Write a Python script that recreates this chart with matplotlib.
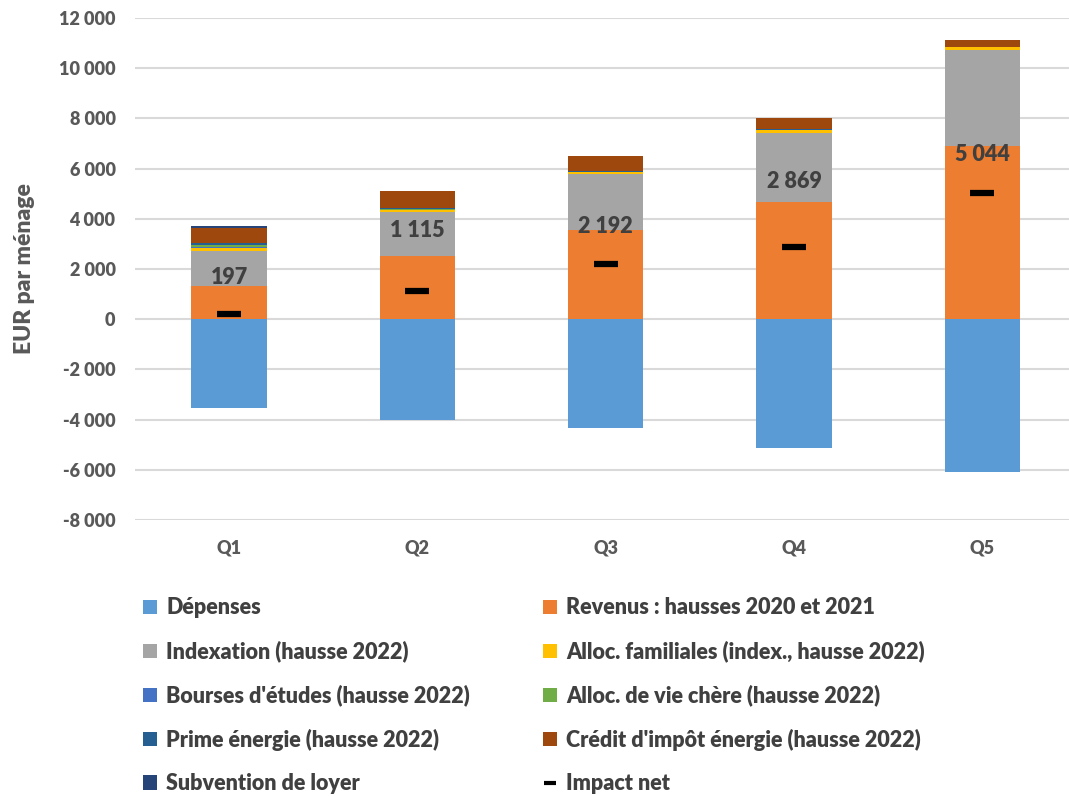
import matplotlib
matplotlib.use("Agg")
import matplotlib.pyplot as plt
from matplotlib.lines import Line2D
from matplotlib.patches import Patch
import numpy as np

# Quintiles
categories = ["Q1", "Q2", "Q3", "Q4", "Q5"]

# Components (EUR per household)
depenses = [-3533, -4000, -4328, -5131, -6076]
revenus = [1330, 2510, 3570, 4680, 6900]
indexation = [1370, 1770, 2200, 2750, 3830]
alloc_fam = [130, 80, 90, 110, 110]
bourses = [40, 0, 0, 0, 0]
alloc_vie_chere = [70, 20, 10, 0, 0]
prime_energie = [90, 40, 50, 20, 20]
credit_impot = [600, 690, 600, 440, 260]
subvention_loyer = [100, 5, 0, 0, 0]
impact_net = [197, 1115, 2192, 2869, 5044]

yticks = list(range(-8000, 12001, 2000))

positive_series = [
    ("Revenus : hausses 2020 et 2021", revenus, "#ED7D31"),
    ("Indexation (hausse 2022)", indexation, "#A5A5A5"),
    ("Alloc. familiales (index., hausse 2022)", alloc_fam, "#FFC000"),
    ("Bourses d'études (hausse 2022)", bourses, "#4472C4"),
    ("Alloc. de vie chère (hausse 2022)", alloc_vie_chere, "#70AD47"),
    ("Prime énergie (hausse 2022)", prime_energie, "#255E91"),
    ("Crédit d'impôt énergie (hausse 2022)", credit_impot, "#9E480E"),
    ("Subvention de loyer", subvention_loyer, "#264478"),
]
dep_color = "#5B9BD5"

WEIGHT = "heavy"
plt.rcParams["font.family"] = ["Lato", "DejaVu Sans"]
plt.rcParams["font.weight"] = WEIGHT

W, H = 1069, 796
fig = plt.figure(figsize=(W / 100, H / 100), dpi=100)
ax = fig.add_axes([135 / W, (H - 520) / H, (W - 135) / W, 502 / H])

x = np.arange(len(categories))
bw = 0.4

ax.bar(x, depenses, width=bw, color=dep_color, zorder=2)
bottom = np.zeros(len(categories))
for name, vals, col in positive_series:
    v = np.array(vals, dtype=float)
    ax.bar(x, v, width=bw, bottom=bottom, color=col, zorder=2)
    bottom += v

ax.plot(x, impact_net, linestyle="none", marker="_", markersize=17,
        markeredgewidth=4.5, color="black", zorder=4)

# Net impact labels, drawn above the marker
label_offsets = [1470, 2400, 1510, 2630, 1500]
for xi, val, off in zip(x, impact_net, label_offsets):
    txt = f"{val:,}".replace(",", " ")
    ax.text(xi, val + off, txt, ha="center", va="center", fontsize=15.5,
            fontweight=WEIGHT, color="#404040", zorder=5)

ax.set_xlim(-0.5, 4.46)
ax.set_ylim(-8000, 12000)
ax.set_yticks(yticks)
ax.set_yticklabels([f"{t:,}".replace(",", " ") for t in yticks])
ax.set_xticks(x)
ax.set_xticklabels(categories)
ax.tick_params(axis="both", length=0, labelsize=13, labelcolor="#595959")
ax.tick_params(axis="x", pad=14)
ax.tick_params(axis="y", pad=14)
for lab in ax.get_xticklabels() + ax.get_yticklabels():
    lab.set_fontweight(WEIGHT)
ax.grid(axis="y", color="#D9D9D9", linewidth=1.5, zorder=0)
ax.set_axisbelow(True)
for s in ax.spines.values():
    s.set_visible(False)
ax.set_ylabel("EUR par ménage", fontsize=16.5, fontweight=WEIGHT, color="#595959")
ax.yaxis.set_label_coords(-100 / (W - 135), 0.5)

# Legend in two columns
def patch(c):
    return Patch(facecolor=c, edgecolor="none")

left_items = [
    ("Dépenses", patch(dep_color)),
    (positive_series[1][0], patch(positive_series[1][2])),
    (positive_series[3][0], patch(positive_series[3][2])),
    (positive_series[5][0], patch(positive_series[5][2])),
    (positive_series[7][0], patch(positive_series[7][2])),
]
right_items = [
    (positive_series[0][0], patch(positive_series[0][2])),
    (positive_series[2][0], patch(positive_series[2][2])),
    (positive_series[4][0], patch(positive_series[4][2])),
    (positive_series[6][0], patch(positive_series[6][2])),
    ("Impact net", Line2D([], [], linestyle="none", marker="_", markersize=9,
                          markeredgewidth=3, color="black")),
]
common = dict(frameon=False, handlelength=0.65, handleheight=0.65,
              handletextpad=0.42, labelspacing=1.03, labelcolor="#404040",
              prop={"weight": WEIGHT, "size": 15.5})
for items, xpx in ((left_items, 124), (right_items, 524)):
    fig.legend([h for _, h in items], [l for l, _ in items],
               loc="upper left", bbox_to_anchor=(xpx / W, 1 - 578 / H),
               **common)

fig.savefig("out.png", dpi=100)
